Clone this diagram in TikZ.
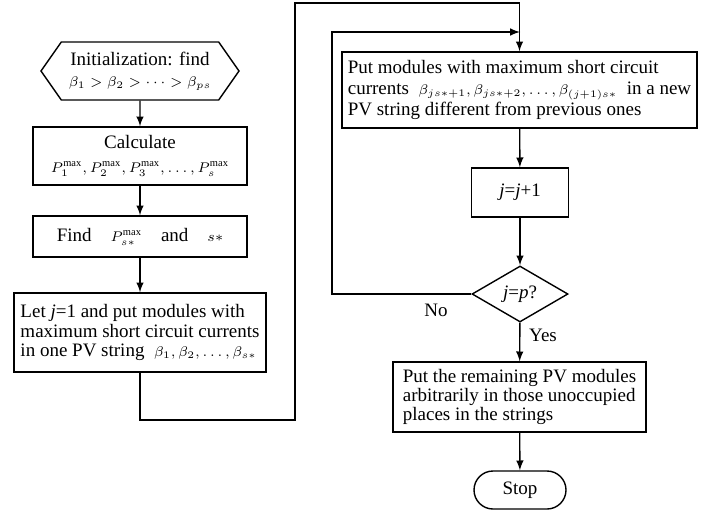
\documentclass[tikz,border=0pt]{standalone}
\usepackage{fontspec}
\setmainfont{Liberation Serif}
\usetikzlibrary{shapes.geometric, shapes.symbols, shapes.misc, arrows, positioning}
\newcommand{\mth}[2][7.5]{{\fontsize{#1}{9}\selectfont$#2$}}
\tikzstyle{init} = [signal, signal to=west and east, signal pointer angle=110, draw, line width=0.7pt, minimum width=99pt, minimum height=29pt, inner sep=1pt]
\tikzstyle{process} = [rectangle, draw, line width=0.7pt, inner sep=3pt]
\tikzstyle{task} = [rectangle, draw, line width=0.7pt, inner sep=3pt, align=left]
\tikzstyle{decision} = [diamond, draw, line width=0.7pt, minimum width=48pt, minimum height=28pt, inner sep=0pt, aspect=1.7]
\tikzstyle{terminal} = [rounded rectangle, draw, line width=0.7pt, minimum width=48pt, minimum height=19pt, inner sep=1pt]
\tikzstyle{flow} = [line width=0.7pt, ->, >=latex]

\begin{document}
\begin{tikzpicture}[x=0.5pt, y=-0.5pt, align=center, font=\fontsize{9.5}{9.6}\selectfont]
  \useasboundingbox (0,0) rectangle (706,514);
  % left column
  \node (init) [init] at (140,71) {Initialization: find\\[1pt] \mth{\beta_1>\beta_2>\cdots>\beta_{ps}}};
  \node (calc) [process, minimum width=107pt, minimum height=29pt] at (140,156) {Calculate\\[2pt] \mth{P_1^{\max},P_2^{\max},P_3^{\max},\dots,P_s^{\max}}};
  \node (find) [process, minimum width=107pt, minimum height=20.5pt] at (140,236.5) {Find\quad \mth{P_{s*}^{\max}}\quad and\quad \mth{s*}};
  \node (letj) [task, minimum width=126pt, minimum height=39.5pt] at (140,332.5) {Let \textit{j}=1 and put modules with\\ maximum short circuit currents\\ in one PV string\ \ \mth{\beta_1,\beta_2,\dots,\beta_{s*}}};
  % right column
  \node (put) [task, minimum width=165pt, minimum height=38pt] at (519.5,90) {Put modules with maximum short circuit\\[1pt] currents\enspace \mth[7]{\beta_{js*+1},\beta_{js*+2},\dots,\beta_{(j+1)s*}}\enspace in a new\\[1pt] PV string different from previous ones};
  \node (inc) [process, minimum width=48.5pt, minimum height=24.5pt] at (520,192.5) {\textit{j}=\textit{j}+1};
  \node (check) [decision] at (520,294) {\textit{j}=\textit{p}?};
  \node (rest) [task, minimum width=126.5pt, minimum height=35pt] at (519.5,397) {Put the remaining PV modules\\ arbitrarily in those unoccupied\\ places in the strings};
  \node (stop) [terminal] at (520,490) {Stop};
  \node (no) at (436,310) {No};
  \node (yes) at (543,335) {Yes};
  \coordinate (low) at (295,420);
  \coordinate (high) at (295,3);
  \coordinate (back) at (332,32);
  \coordinate (join) at (520,32);

  \draw [flow] (init) -- (calc);
  \draw [flow] (calc) -- (find);
  \draw [flow] (find) -- (letj);
  \draw [flow] (letj.south) |- (low) -- (high) -| (put.north);
  \draw [flow] (put) -- (inc);
  \draw [flow] (inc) -- (check);
  \draw [flow] (check.west) -| (back) -- (join);
  \draw [flow] (check) -- (rest);
  \draw [flow] (rest) -- (stop);
\end{tikzpicture}
\end{document}
